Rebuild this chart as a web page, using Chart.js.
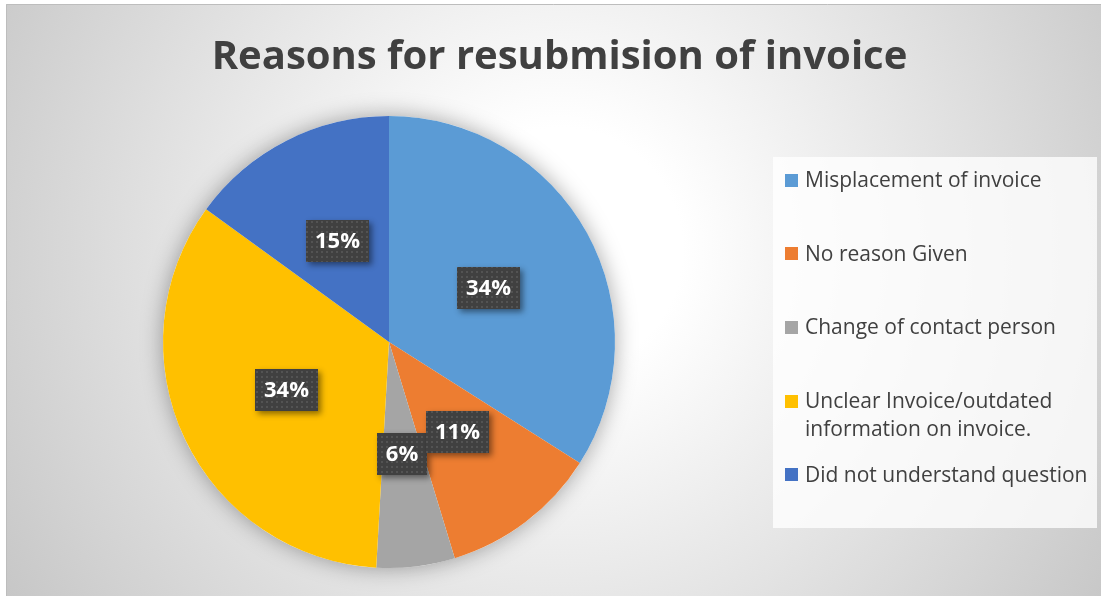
<!DOCTYPE html>
<html>
<head>
<meta charset="utf-8">
<script src="https://cdn.jsdelivr.net/npm/chart.js@4.4.0/dist/chart.umd.min.js"></script>
<style>
    html, body { margin: 0; padding: 0; background: #fff; }
    #contenedor { width: 1101px; height: 596px; }
</style>
</head>
<body>
<div id="contenedor"><canvas id="grafico" width="1101" height="596"></canvas></div>
<script>
const titulo = "Reasons for resubmision of invoice";
const categorias = [
    "Misplacement of invoice",
    "No reason Given",
    "Change of contact person",
    "Unclear Invoice/outdated information on invoice.",
    "Did not understand question"
];
const valores = [34, 11.3, 5.6, 34.1, 15];
const colores = ["#5b9bd5", "#ed7d31", "#a5a5a5", "#ffc000", "#4472c4"];

const fuente = "'Open Sans'";

// ==============================
// Fondo con degradado radial, marco y título
// ==============================
const fondo = {
    id: "fondo",
    beforeDraw(chart) {
        const ctx = chart.ctx;
        ctx.save();
        ctx.fillStyle = "#ffffff";
        ctx.fillRect(0, 0, chart.width, chart.height);
        const g = ctx.createRadialGradient(560, 250, 0, 560, 250, 680);
        g.addColorStop(0, "#ffffff");
        g.addColorStop(0.18, "#ffffff");
        g.addColorStop(1, "#c4c4c4");
        ctx.fillStyle = g;
        ctx.fillRect(6, 4, chart.width - 6, chart.height - 4);
        ctx.strokeStyle = "#bdbdbd";
        ctx.lineWidth = 1;
        ctx.beginPath();
        ctx.moveTo(6.5, chart.height);
        ctx.lineTo(6.5, 4.5);
        ctx.lineTo(chart.width, 4.5);
        ctx.stroke();

        // título
        ctx.font = "bold 40px " + fuente;
        ctx.fillStyle = "#404040";
        ctx.textAlign = "center";
        ctx.textBaseline = "middle";
        ctx.fillText(titulo, 559.5, 58);
        ctx.restore();
    }
};

// ==============================
// Sombra suave detrás del pastel
// ==============================
const sombra = {
    id: "sombra",
    beforeDatasetsDraw(chart) {
        const arco = chart.getDatasetMeta(0).data[0];
        if (!arco) return;
        const ctx = chart.ctx;
        ctx.save();
        ctx.shadowColor = "rgba(0,0,0,0.35)";
        ctx.shadowBlur = 22;
        ctx.fillStyle = "#ffffff";
        ctx.beginPath();
        ctx.arc(arco.x, arco.y, arco.outerRadius, 0, Math.PI * 2);
        ctx.fill();
        ctx.restore();
    }
};

function crearPatron(ctx) {
    const c = document.createElement("canvas");
    c.width = 5; c.height = 5;
    const p = c.getContext("2d");
    p.fillStyle = "rgba(255,255,255,0.10)";
    p.fillRect(1, 1, 2, 2);
    return ctx.createPattern(c, "repeat");
}

// ==============================
// Etiquetas de porcentaje
// ==============================
const etiquetas = {
    id: "etiquetas",
    afterDatasetsDraw(chart) {
        const ctx = chart.ctx;
        const meta = chart.getDatasetMeta(0);
        const datos = chart.data.datasets[0].data;
        const total = datos.reduce((a, b) => a + b, 0);
        const patron = crearPatron(ctx);
        ctx.save();
        ctx.font = "bold 22px " + fuente;
        ctx.textAlign = "center";
        ctx.textBaseline = "middle";
        for (let i = meta.data.length - 1; i >= 0; i--) {
            const p = meta.data[i].tooltipPosition();
            const txt = Math.round(datos[i] / total * 100) + "%";
            const w = Math.round(ctx.measureText(txt).width + 18), h = 42;
            const x = Math.round(p.x - w / 2), y = Math.round(p.y - h / 2);
            ctx.shadowColor = "rgba(0,0,0,0.45)";
            ctx.shadowBlur = 6;
            ctx.shadowOffsetX = 3;
            ctx.shadowOffsetY = 3;
            ctx.fillStyle = "#404040";
            ctx.fillRect(x, y, w, h);
            ctx.shadowColor = "transparent";
            ctx.fillStyle = patron;
            ctx.fillRect(x, y, w, h);
            ctx.fillStyle = "#ffffff";
            ctx.fillText(txt, x + w / 2, y + h / 2 + 1);
        }
        ctx.restore();
    }
};

function partir(ctx, texto, ancho) {
    const palabras = texto.split(" ");
    const lineas = [];
    let actual = "";
    palabras.forEach(p => {
        const prueba = actual ? actual + " " + p : p;
        if (ctx.measureText(prueba).width > ancho && actual) {
            lineas.push(actual);
            actual = p;
        } else {
            actual = prueba;
        }
    });
    lineas.push(actual);
    return lineas;
}

// ==============================
// Leyenda a la derecha
// ==============================
const leyenda = {
    id: "leyenda",
    afterDraw(chart) {
        const ctx = chart.ctx;
        ctx.save();
        ctx.fillStyle = "rgba(255,255,255,0.78)";
        ctx.fillRect(773, 157, 324, 371);
        ctx.font = "21px " + fuente;
        ctx.textBaseline = "middle";
        ctx.textAlign = "left";
        const cols = chart.data.datasets[0].backgroundColor;
        let y = 180;
        chart.data.labels.forEach((lab, i) => {
            const lineas = partir(ctx, lab, 290);
            ctx.fillStyle = cols[i];
            ctx.fillRect(785, Math.round(y - 6.5), 13, 13);
            ctx.fillStyle = "#404040";
            lineas.forEach((l, k) => ctx.fillText(l, 805, y + 1 + k * 28));
            y += 73.7;
        });
        ctx.restore();
    }
};

const ctxP = document.getElementById("grafico").getContext("2d");
new Chart(ctxP, {
    type: "pie",
    data: {
        labels: categorias,
        datasets: [{
            data: valores,
            backgroundColor: colores,
            borderWidth: 0
        }]
    },
    options: {
        responsive: false,
        animation: false,
        layout: { padding: { left: 163, right: 486, top: 116, bottom: 28 } },
        plugins: {
            legend: { display: false },
            title: { display: false },
            tooltip: { enabled: false }
        }
    },
    plugins: [fondo, sombra, etiquetas, leyenda]
});
</script>
</body>
</html>
